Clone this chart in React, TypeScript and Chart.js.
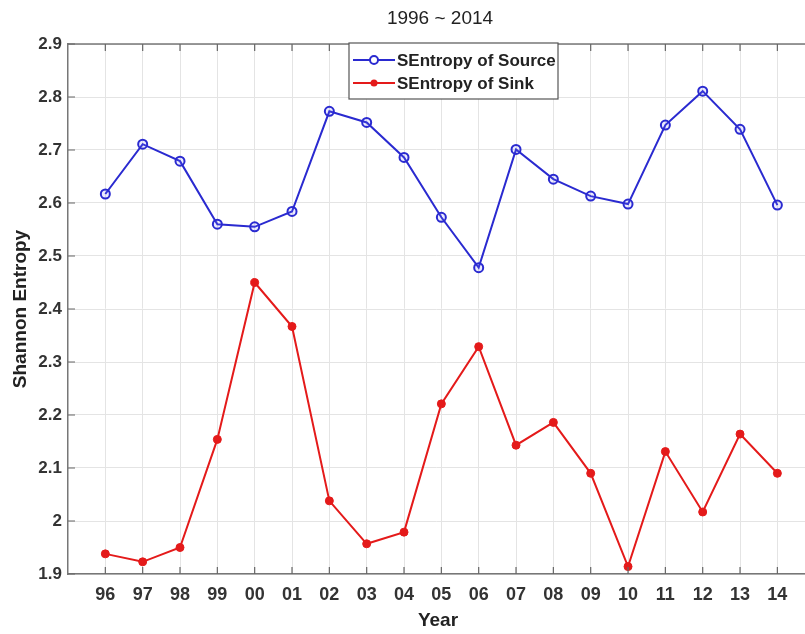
import React, { useEffect, useRef } from "react";
import { Chart, registerables } from "chart.js";

Chart.register(...registerables);

const years = ["96", "97", "98", "99", "00", "01", "02", "03", "04", "05", "06", "07", "08", "09", "10", "11", "12", "13", "14"];
const sourceEntropy = [2.617, 2.711, 2.679, 2.56, 2.555, 2.584, 2.773, 2.752, 2.686, 2.573, 2.478, 2.701, 2.645, 2.613, 2.598, 2.747, 2.811, 2.739, 2.596];
const sinkEntropy = [1.938, 1.923, 1.95, 2.154, 2.45, 2.367, 2.038, 1.957, 1.979, 2.221, 2.329, 2.143, 2.186, 2.09, 1.914, 2.131, 2.017, 2.164, 2.09];
const yTicks = [1.9, 2.0, 2.1, 2.2, 2.3, 2.4, 2.5, 2.6, 2.7, 2.8, 2.9];
const titleText = "1996 ~ 2014";
const xTitle = "Year";
const yTitle = "Shannon Entropy";
const seriesNames = ["SEntropy of Source", "SEntropy of Sink"];

const BLUE = "#2a2ad0";
const RED = "#e41a1a";
const FONT = "'Liberation Sans', Arial, sans-serif";

const decorPlugin = {
  id: "decor",
  afterDraw(chart: any) {
    const ctx = chart.ctx as CanvasRenderingContext2D;
    const area = chart.chartArea;
    const xs = chart.scales.x;
    const ys = chart.scales.y;
    ctx.save();
    // top border
    ctx.strokeStyle = "#777";
    ctx.lineWidth = 1.5;
    ctx.beginPath();
    ctx.moveTo(area.left, area.top);
    ctx.lineTo(area.right, area.top);
    ctx.stroke();
    // inward ticks
    ctx.lineWidth = 1.2;
    ctx.strokeStyle = "#666";
    ctx.beginPath();
    years.forEach((_, i) => {
      const px = xs.getPixelForValue(i);
      ctx.moveTo(px, area.bottom);
      ctx.lineTo(px, area.bottom - 7);
      ctx.moveTo(px, area.top);
      ctx.lineTo(px, area.top + 7);
    });
    yTicks.forEach((v) => {
      const py = ys.getPixelForValue(v);
      ctx.moveTo(area.left, py);
      ctx.lineTo(area.left + 7, py);
    });
    ctx.stroke();

    // title
    ctx.fillStyle = "#222";
    ctx.font = `19px ${FONT}`;
    ctx.textAlign = "center";
    ctx.textBaseline = "middle";
    ctx.fillText(titleText, 440, 19);

    // x title
    ctx.font = `bold 19px ${FONT}`;
    ctx.fillStyle = "#222";
    ctx.fillText(xTitle, 438, 621);

    // y title
    ctx.save();
    ctx.translate(21, (area.top + area.bottom) / 2);
    ctx.rotate(-Math.PI / 2);
    ctx.fillText(yTitle, 0, 0);
    ctx.restore();

    // legend
    const lx = 349, ly = 43, lw = 209, lh = 56;
    ctx.fillStyle = "#fff";
    ctx.fillRect(lx, ly, lw, lh);
    ctx.strokeStyle = "#555";
    ctx.lineWidth = 1.2;
    ctx.strokeRect(lx, ly, lw, lh);
    const rows = [
      { y: 60, color: BLUE, open: true, name: seriesNames[0] },
      { y: 83, color: RED, open: false, name: seriesNames[1] },
    ];
    rows.forEach((r) => {
      ctx.strokeStyle = r.color;
      ctx.lineWidth = 2;
      ctx.beginPath();
      ctx.moveTo(353, r.y);
      ctx.lineTo(395, r.y);
      ctx.stroke();
      ctx.beginPath();
      ctx.arc(374, r.y, r.open ? 4 : 3.5, 0, Math.PI * 2);
      if (r.open) {
        ctx.fillStyle = "#fff";
        ctx.fill();
        ctx.lineWidth = 2;
        ctx.stroke();
      } else {
        ctx.fillStyle = r.color;
        ctx.fill();
      }
      ctx.fillStyle = "#222";
      ctx.font = `bold 17px ${FONT}`;
      ctx.textAlign = "left";
      ctx.textBaseline = "middle";
      ctx.fillText(r.name, 397, r.y + 1);
    });
    ctx.restore();
  },
};

export default function App() {
  const ref = useRef<HTMLCanvasElement>(null);
  useEffect(() => {
    document.body.style.margin = "0";
    const chart = new Chart(ref.current!, {
      type: "line",
      data: {
        datasets: [
          {
            label: seriesNames[0],
            data: sourceEntropy.map((v, i) => ({ x: i, y: v })),
            borderColor: BLUE,
            backgroundColor: "rgba(255,255,255,0)",
            borderWidth: 2,
            pointRadius: 4.5,
            pointBorderWidth: 2,
            pointBorderColor: BLUE,
            pointBackgroundColor: "rgba(120,120,255,0.15)",
            tension: 0,
          },
          {
            label: seriesNames[1],
            data: sinkEntropy.map((v, i) => ({ x: i, y: v })),
            borderColor: RED,
            backgroundColor: RED,
            borderWidth: 2,
            pointRadius: 4,
            pointBorderWidth: 1,
            pointBorderColor: RED,
            pointBackgroundColor: RED,
            tension: 0,
          },
        ],
      },
      options: {
        responsive: false,
        animation: false,
        layout: { autoPadding: false, padding: { top: 44, right: 0, left: 0, bottom: 0 } },
        plugins: { legend: { display: false }, title: { display: false }, tooltip: { enabled: false } },
        scales: {
          x: {
            type: "linear",
            min: -1,
            max: 18.74,
            afterFit(scale: any) {
              scale.height = 60;
              scale.paddingLeft = 0;
              scale.paddingRight = 0;
            },
            afterBuildTicks(scale: any) {
              scale.ticks = years.map((_, i) => ({ value: i }));
            },
            ticks: {
              autoSkip: false,
              maxRotation: 0,
              padding: 10,
              color: "#333",
              font: { family: FONT, size: 18, weight: "bold" },
              callback: (v: any) => years[Math.round(Number(v))] ?? "",
            },
            grid: { color: "#e4e4e4", lineWidth: 1, drawTicks: false },
            border: { color: "#777", width: 1.5 },
          },
          y: {
            type: "linear",
            min: 1.9,
            max: 2.9,
            afterFit(scale: any) {
              scale.width = 68;
              scale.paddingTop = 0;
              scale.paddingBottom = 0;
            },
            afterBuildTicks(scale: any) {
              scale.ticks = yTicks.map((v) => ({ value: v }));
            },
            ticks: {
              padding: 6,
              color: "#333",
              font: { family: FONT, size: 17, weight: "bold" },
              callback: (v: any) => String(Number(Number(v).toFixed(1))),
            },
            grid: { color: "#e4e4e4", lineWidth: 1, drawTicks: false },
            border: { color: "#777", width: 1.5 },
          },
        },
      } as any,
      plugins: [decorPlugin],
    });
    return () => chart.destroy();
  }, []);
  return (
    <div style={{ position: "absolute", left: 0, top: 0, width: 805, height: 634, background: "#fff" }}>
      <canvas ref={ref} width={805} height={634} />
    </div>
  );
}
